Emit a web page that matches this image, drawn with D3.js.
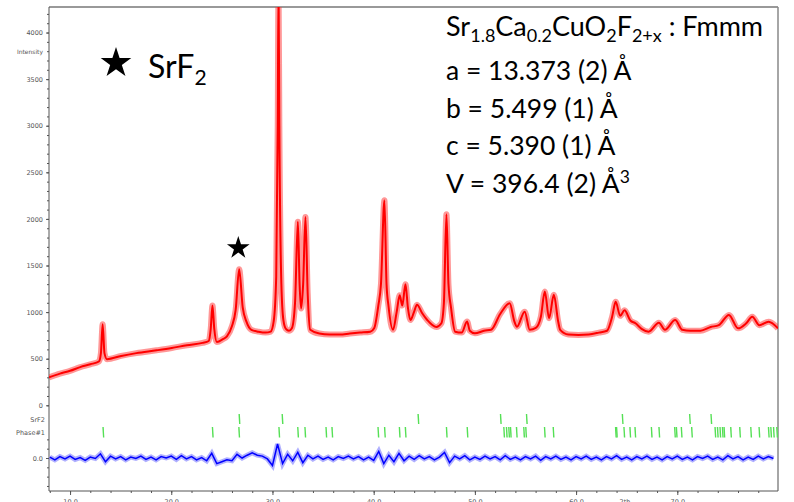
<!doctype html>
<html lang="en">
<head>
	<meta charset="UTF-8">
	<title>XRD refinement</title>
	<script src="https://d3js.org/d3.v7.min.js"></script>
	<style>
		body { margin: 0; background: #fff; }
		svg { display: block; }
	</style>
</head>
<body>
	<div id="chart"></div>
	<script>
		var observed = [
			[7.92,300],[9,340],[10,370],[11,410],[12,440],[12.85,470],[13.05,560],[13.22,870],[13.4,560],[13.65,495],
			[15.05,530],[16.55,560],[18.55,590],[20.05,615],[21.55,645],[23.1,670],[23.7,690],[23.9,820],[24.07,1070],
			[24.25,820],[24.5,680],[25.1,710],[25.5,740],[26.0,850],[26.36,1020],[26.71,1460],[27.06,1050],[27.42,900],
			[27.92,810],[28.62,790],[29.32,780],[29.82,790],[30.12,900],[30.37,1380],[30.52,3000],[30.6,4500],[30.68,3000],
			[30.88,1300],[31.08,915],[31.33,820],[31.63,800],[31.93,830],[32.23,1100],[32.51,1970],[32.68,1300],[32.83,1040],
			[33.03,1300],[33.26,2020],[33.48,1200],[33.73,810],[34.63,770],[35.64,760],[36.64,760],[37.65,770],[38.65,780],
			[39.66,790],[40.06,830],[40.46,1070],[40.72,1300],[41.06,2200],[41.27,1300],[41.47,1060],[41.91,810],[42.27,1000],
			[42.57,1180],[42.83,1070],[43.14,1300],[43.38,1050],[43.63,915],[43.98,1000],[44.28,1080],[44.78,990],[45.29,915],
			[46.19,840],[46.69,880],[46.94,1100],[47.19,2050],[47.39,1300],[47.64,1050],[48.05,790],[48.7,780],[49.23,900],
			[49.5,800],[50.0,772],[50.9,800],[51.6,810],[52.5,980],[53.44,1095],[53.9,900],[54.16,843],[54.92,1005],[55.42,810],
			[56.02,830],[56.52,950],[56.91,1220],[57.33,935],[57.8,1185],[58.23,900],[58.43,810],[59.24,760],[60.24,755],
			[61.25,760],[62.25,780],[63.05,800],[63.56,950],[63.91,1110],[64.36,960],[64.79,1020],[65.36,910],[65.87,880],
			[66.47,820],[67.17,790],[68.18,886],[68.78,810],[69.79,915],[70.49,810],[71.29,800],[72.29,800],[73.3,840],
			[74.1,860],[75.1,970],[76.0,826],[76.81,880],[77.41,950],[78.11,860],[79.02,897],[79.95,826]
		]

		// difference curve, one value every 0.5 deg from 8.0
		var diffStart = 8.0
		var diffStep = 0.5
		var diffValues = [
			10,-20,15,-10,20,-15,5,-25,10,-5,
			45,-40,20,-10,15,-20,10,-5,20,-15,
			10,-20,15,0,20,-15,25,-10,15,-20,
			5,-30,50,-60,-40,-20,-30,40,0,30,
			55,30,20,-10,-80,150,-60,40,-30,60,
			-50,30,-10,20,-15,10,-20,15,-5,20,
			-10,15,-20,10,-25,70,-60,30,-40,50,
			-30,20,-15,25,-10,15,-20,10,60,-50,
			20,-10,25,-20,10,-15,20,-10,15,-20,
			25,-15,10,-20,15,-10,20,-25,15,-10,
			20,-15,10,-20,15,-10,20,-15,10,-20,
			15,-10,25,-15,10,-20,15,-10,20,-15,
			10,-20,15,-10,20,-15,10,-20,15,-5,
			20,-15,10,-20,25,-10,15,-20,10,-15,
			20,-10,15,-5
		]

		// reflection positions
		var srf2Ticks = [26.71, 30.96, 44.39, 52.53, 55.10, 64.57, 71.22, 73.33]
		var phase1Ticks = [13.26, 24.07, 26.68, 30.64, 32.50, 33.21, 35.29, 35.88, 40.43, 41.08, 42.54, 43.13,
			47.19, 49.24, 52.86, 53.12, 53.35, 53.52, 54.11, 54.83, 55.03, 56.88, 57.74, 63.90, 64.00, 64.73,
			65.32, 65.82, 67.44, 68.19, 69.74, 69.91, 70.40, 71.42, 73.73, 73.97, 74.22, 74.46, 74.62, 75.28,
			76.17, 77.26, 78.08, 79.01, 79.24, 79.51, 79.83]

		var yTicks = [0, 500, 1000, 1500, 2000, 2500, 3000, 3500, 4000]
		var xTicks = [10, 20, 30, 40, 50, 60, 70]
		var cellLines = ['a = 13.373 (2) Å', 'b = 5.499 (1) Å', 'c = 5.390 (1) Å']

		var w = 794
		var h = 502
		var pLeft = 49, pRight = 778, pTop = 7, pBottom = 491

		var svg = d3.select('#chart').append('svg')
			.attr('width', w)
			.attr('height', h)

		var x = d3.scaleLinear().domain([7.92, 79.95]).range([pLeft, pRight])
		var y = d3.scaleLinear().domain([0, 4274]).range([405.3, pTop])
		var yd = d3.scaleLinear().domain([0, 100]).range([458, 448.68])

		var smallFont = 'DejaVu Sans, sans-serif'
		var bigFont = 'Lato, Open Sans, sans-serif'

		svg.append('clipPath').attr('id', 'plotclip')
			.append('rect').attr('x', pLeft).attr('y', pTop).attr('width', pRight - pLeft).attr('height', pBottom - pTop)

		/* ------------------------------- Axes ------------------------------- */
		svg.append('g').attr('transform', 'translate(' + pLeft + ',0)')
			.call(d3.axisLeft(y).tickValues(d3.range(0, 4300, 100)).tickSize(2).tickFormat(''))
		svg.append('g').attr('transform', 'translate(' + pLeft + ',0)')
			.call(d3.axisLeft(y).tickValues(yTicks).tickSize(3).tickPadding(3).tickFormat(d3.format('d')))
		svg.append('g').attr('transform', 'translate(' + pLeft + ',0)')
			.call(d3.axisLeft(yd).tickValues([-300, -200, -100, 100, 200]).tickSize(2).tickFormat(''))
		svg.append('g').attr('transform', 'translate(' + pLeft + ',0)')
			.call(d3.axisLeft(yd).tickValues([0]).tickSize(3).tickPadding(3).tickFormat(d3.format('.1f')))

		svg.append('g').attr('transform', 'translate(0,' + pBottom + ')')
			.call(d3.axisBottom(x).tickValues(d3.range(8, 80, 2)).tickSize(2).tickFormat(''))
		svg.append('g').attr('transform', 'translate(0,' + pBottom + ')')
			.call(d3.axisBottom(x).tickValues(xTicks).tickSize(4).tickPadding(4).tickFormat(d3.format('.1f')))

		svg.selectAll('.domain').remove()
		svg.selectAll('.tick line').attr('stroke', '#555')
		svg.selectAll('.tick text').attr('font-family', smallFont).attr('font-size', 6.5).attr('fill', '#555')

		svg.append('text').attr('x', 625).attr('y', 504).attr('text-anchor', 'middle')
			.attr('font-family', smallFont).attr('font-size', 6.5).attr('fill', '#555').text('2th')

		svg.append('text').attr('x', 43).attr('y', 54).attr('text-anchor', 'end')
			.attr('font-family', smallFont).attr('font-size', 6).attr('fill', '#555').text('Intensity')
		svg.append('text').attr('x', 45).attr('y', 421.5).attr('text-anchor', 'end')
			.attr('font-family', smallFont).attr('font-size', 6.5).attr('fill', '#555').text('SrF2')
		svg.append('text').attr('x', 45).attr('y', 434.5).attr('text-anchor', 'end')
			.attr('font-family', smallFont).attr('font-size', 6.5).attr('fill', '#555').text('Phase#1')

		// frame
		svg.append('line').attr('x1', pLeft).attr('x2', pRight).attr('y1', pTop).attr('y2', pTop)
			.attr('stroke', '#999').attr('stroke-width', 2)
		svg.append('line').attr('x1', pRight).attr('x2', pRight).attr('y1', pTop).attr('y2', pBottom)
			.attr('stroke', '#888').attr('stroke-width', 1.5)
		svg.append('line').attr('x1', pLeft).attr('x2', pLeft).attr('y1', pTop).attr('y2', pBottom)
			.attr('stroke', '#555').attr('stroke-width', 1)
		svg.append('line').attr('x1', pLeft).attr('x2', pRight).attr('y1', pBottom).attr('y2', pBottom)
			.attr('stroke', '#555').attr('stroke-width', 1)

		/* ------------------------------- Curves ------------------------------- */
		var obsLine = d3.line()
			.x(function (d) { return x(d[0]) })
			.y(function (d) { return y(d[1]) })
			.curve(d3.curveMonotoneX)

		var plot = svg.append('g').attr('clip-path', 'url(#plotclip)')

		plot.append('path').datum(observed).attr('d', obsLine)
			.attr('fill', 'none').attr('stroke', '#ff3030').attr('stroke-width', 6).attr('stroke-opacity', 0.5)
		plot.append('path').datum(observed).attr('d', obsLine)
			.attr('fill', 'none').attr('stroke', '#ff0000').attr('stroke-width', 2)

		var diffLine = d3.line()
			.x(function (d, i) { return x(diffStart + i * diffStep) })
			.y(function (d) { return yd(d) })

		plot.append('path').datum(diffValues).attr('d', diffLine)
			.attr('fill', 'none').attr('stroke', '#6f6fff').attr('stroke-width', 5).attr('stroke-opacity', 0.55)
		plot.append('path').datum(diffValues).attr('d', diffLine)
			.attr('fill', 'none').attr('stroke', '#0000ff').attr('stroke-width', 1.5)

		// reflection ticks
		plot.selectAll('.srf2').data(srf2Ticks).enter().append('line')
			.attr('x1', function (d) { return x(d) }).attr('x2', function (d) { return x(d) + 0.6 })
			.attr('y1', 414).attr('y2', 424)
			.attr('stroke', '#55e055').attr('stroke-width', 1.4)
		plot.selectAll('.ph1').data(phase1Ticks).enter().append('line')
			.attr('x1', function (d) { return x(d) }).attr('x2', function (d) { return x(d) + 0.6 })
			.attr('y1', 427).attr('y2', 437.5)
			.attr('stroke', '#55e055').attr('stroke-width', 1.4)

		/* ------------------------------- Annotations ------------------------------- */
		var star = d3.symbol().type(d3.symbolStar)

		svg.append('path').attr('d', star.size(290)())
			.attr('transform', 'translate(116,63)').attr('fill', '#000')
		svg.append('path').attr('d', star.size(160)())
			.attr('transform', 'translate(238.3,248)').attr('fill', '#000')

		var legend = svg.append('text').attr('x', 148).attr('y', 78)
			.attr('font-family', bigFont).attr('font-size', 32).attr('fill', '#000')
		legend.append('tspan').text('SrF')
		legend.append('tspan').attr('dy', 7).attr('font-size', 21).text('2')

		var t1 = svg.append('text').attr('x', 446).attr('y', 36)
			.attr('font-family', bigFont).attr('font-size', 27).attr('fill', '#000')
		var parts = [['Sr', 0], ['1.8', 1], ['Ca', 0], ['0.2', 1], ['CuO', 0], ['2', 1], ['F', 0], ['2+x', 1], [' : Fmmm', 0]]
		var shifted = false
		parts.forEach(function (p) {
			var ts = t1.append('tspan').text(p[0])
			if (p[1] && !shifted) { ts.attr('dy', 6).attr('font-size', 18); shifted = true }
			else if (p[1]) { ts.attr('font-size', 18) }
			else if (shifted) { ts.attr('dy', -6); shifted = false }
		})

		svg.selectAll('.cell').data(cellLines).enter().append('text')
			.attr('x', 446).attr('y', function (d, i) { return 80 + i * 37.7 })
			.attr('font-family', bigFont).attr('font-size', 26.5).attr('fill', '#000')
			.text(function (d) { return d })

		var t5 = svg.append('text').attr('x', 446).attr('y', 193)
			.attr('font-family', bigFont).attr('font-size', 26.5).attr('fill', '#000')
		t5.append('tspan').text('V = 396.4 (2) Å')
		t5.append('tspan').attr('dy', -10).attr('font-size', 17.5).text('3')
	</script>
</body>
</html>
